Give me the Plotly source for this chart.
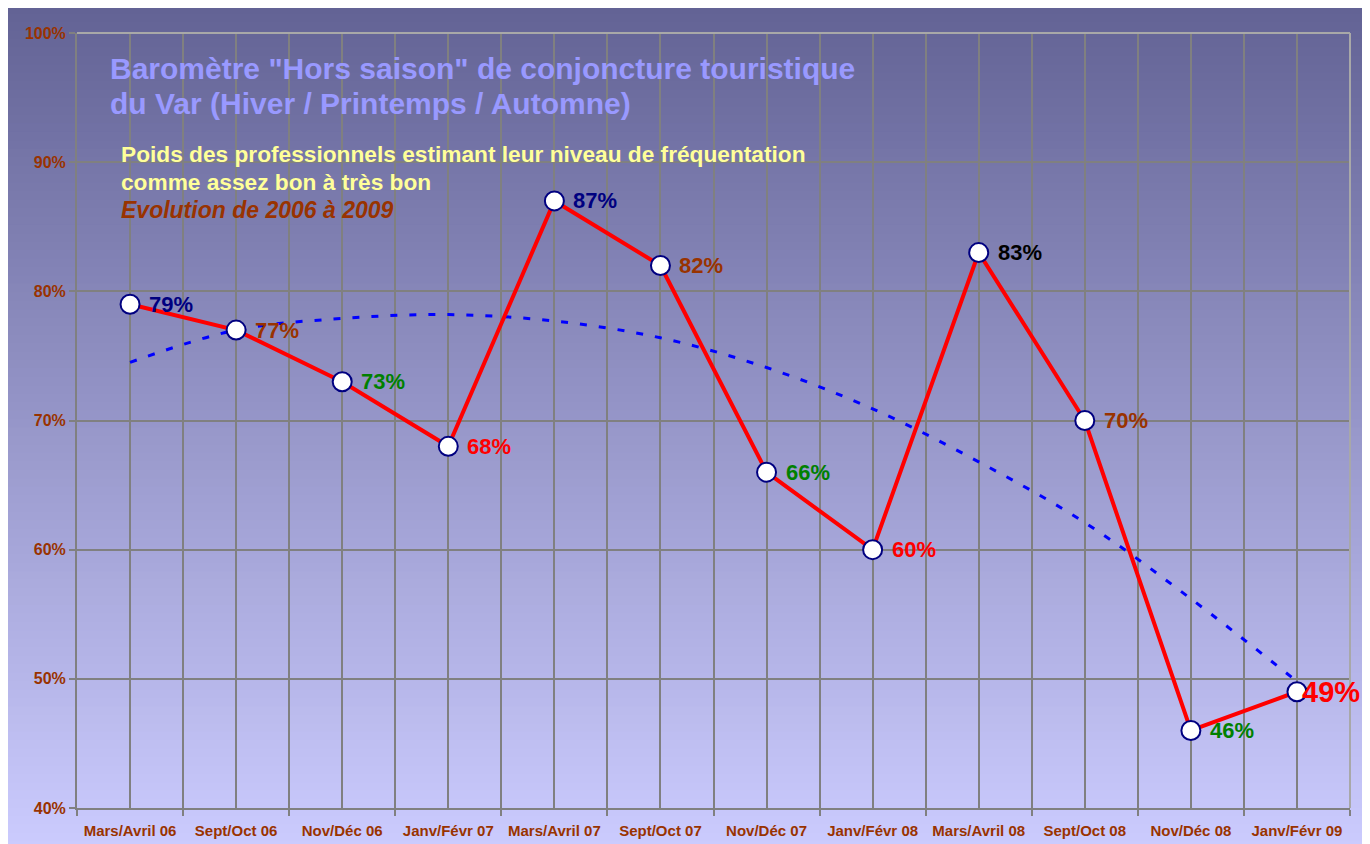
import plotly.graph_objects as go

# ---- data ----
categories = ["Mars/Avril 06", "Sept/Oct 06", "Nov/Déc 06", "Janv/Févr 07",
              "Mars/Avril 07", "Sept/Oct 07", "Nov/Déc 07", "Janv/Févr 08",
              "Mars/Avril 08", "Sept/Oct 08", "Nov/Déc 08", "Janv/Févr 09"]
values = [79, 77, 73, 68, 87, 82, 66, 60, 83, 70, 46, 49]
trend_values = [74.5, 77.0, 77.9, 78.2, 77.7, 76.4, 74.1, 70.9, 66.8, 62.1, 56.2, 49.8]
label_colors = ["#000080", "#993300", "#008000", "#FF0000",
                "#000080", "#993300", "#008000", "#FF0000",
                "#000000", "#993300", "#008000", "#FF0000"]
label_sizes = [22, 22, 22, 22, 22, 22, 22, 22, 22, 22, 22, 29]
y_ticks = [40, 50, 60, 70, 80, 90, 100]

OFF = 8  # browser body margin
W, H = 1370 - OFF, 844 - OFF
L, R, T, B = 77 - OFF, 1350 - OFF, 33 - OFF, 808 - OFF

def px2x(px):
    return (px - OFF - L) / (R - L)

def py2y(py):
    return (B - (py - OFF)) / (B - T)

x = list(range(len(categories)))
font = "Arial, Liberation Sans"

fig = go.Figure()

# background gradient (figure area)
top_rgb = (0x62, 0x62, 0x94)
bot_rgb = (0xCC, 0xCC, 0xFF)
n = 100
y0p, y1p = 5, 850
for i in range(n):
    a = y0p + (y1p - y0p) * i / n
    b = y0p + (y1p - y0p) * (i + 1) / n
    t = (i + 0.5) / n
    c = tuple(int(round(top_rgb[k] + (bot_rgb[k] - top_rgb[k]) * t)) for k in range(3))
    fig.add_shape(type="rect", xref="paper", yref="paper",
                  x0=px2x(0), x1=px2x(1363), y0=py2y(b + 1.5), y1=py2y(a),
                  fillcolor="rgb(%d,%d,%d)" % c, line_width=0, layer="below")

# trend line
fig.add_trace(go.Scatter(
    x=x, y=trend_values, mode="lines", line_shape="spline",
    line=dict(color="#0000FF", width=3, dash="7px,12px"),
    hoverinfo="skip", showlegend=False))

# main series
fig.add_trace(go.Scatter(
    x=x, y=values, mode="lines+markers",
    line=dict(color="#FF0000", width=4),
    marker=dict(size=19, color="#FFFFFF", line=dict(color="#000080", width=2)),
    showlegend=False))

for xi, v, col, sz in zip(x, values, label_colors, label_sizes):
    fig.add_annotation(x=xi, y=v, xref="x", yref="y", text=f"<b>{v}%</b>",
                       showarrow=False, xanchor="left", yanchor="middle",
                       xshift=17 if sz < 25 else 3,
                       font=dict(family=font, size=sz, color=col))

fig.update_xaxes(
    range=[-0.5, len(categories) - 0.5],
    tickmode="array", tickvals=x, ticktext=[f"<b>{c}</b>" for c in categories], ticks="",
    tickfont=dict(family=font, size=15, color="#993300"),
    ticklabelstandoff=8, automargin=False,
    showgrid=True, gridcolor="#808080", gridwidth=1.5,
    minor=dict(tick0=-0.5, dtick=1, showgrid=True, gridcolor="#808080", gridwidth=1.5,
               ticks="outside", ticklen=6, tickcolor="#808080", tickwidth=2),
    showline=True, linecolor="#808080", linewidth=2,
    zeroline=False, fixedrange=True)

fig.update_yaxes(
    range=[40, 100], tickmode="array", tickvals=y_ticks,
    ticktext=[f"<b>{v}%</b>" for v in y_ticks],
    tickfont=dict(family=font, size=16, color="#993300"),
    ticks="outside", ticklen=6, tickcolor="#808080", tickwidth=2,
    automargin=False,
    showgrid=True, gridcolor="#808080", gridwidth=1.5,
    showline=True, linecolor="#808080", linewidth=2, zeroline=False)

# top/right border
fig.add_shape(type="line", xref="paper", yref="paper", x0=0, x1=1, y0=1, y1=1,
              line=dict(color="#A8A8A8", width=2))
fig.add_shape(type="line", xref="paper", yref="paper", x0=1, x1=1, y0=0, y1=1,
              line=dict(color="#A8A8A8", width=2))

texts = [
    ("Baromètre \"Hors saison\" de conjoncture touristique", 108, 68, 30, "#9999FF", False),
    ("du Var (Hiver / Printemps / Automne)", 108, 103, 30, "#9999FF", False),
    ("Poids des professionnels estimant leur niveau de fréquentation", 119, 154, 22.7, "#FFFF99", False),
    ("comme assez bon à très bon", 119, 182, 22.7, "#FFFF99", False),
    ("Evolution de 2006 à 2009", 119, 210, 23, "#993300", True),
]
for txt, px, py, sz, col, it in texts:
    s = f"<b><i>{txt}</i></b>" if it else f"<b>{txt}</b>"
    fig.add_annotation(text=s, xref="paper", yref="paper", x=px2x(px), y=py2y(py),
                       xanchor="left", yanchor="middle", showarrow=False,
                       font=dict(family=font, size=sz, color=col))

fig.update_layout(
    width=W, height=H,
    margin=dict(l=L, r=W - R, t=T, b=H - B),
    paper_bgcolor="#FFFFFF", plot_bgcolor="rgba(0,0,0,0)",
    font=dict(family=font),
    showlegend=False)

fig.write_html("out.html")
